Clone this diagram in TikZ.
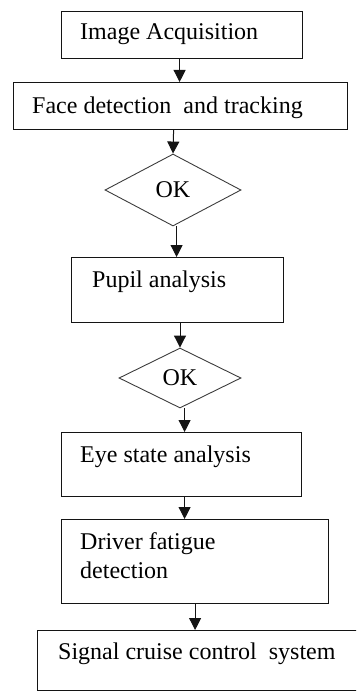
\documentclass[tikz,border=0pt]{standalone}
\usepackage{fontspec}
\setmainfont{Liberation Serif}
\usepackage{tikz}
\usetikzlibrary{arrows.meta,positioning,shapes.geometric}
\definecolor{ink}{RGB}{20,20,20}
\definecolor{rim}{RGB}{60,60,60}
\tikzset{
  blk/.style={draw=ink,line width=1.2pt,rectangle,inner sep=0pt,anchor=north west},
  chk/.style={draw=rim,line width=0.9pt,diamond,inner sep=0pt,aspect=1.9,
    font=\fontsize{24}{28}\selectfont},
  ar/.style={-{Triangle[length=12pt,width=12pt]},line width=1pt,draw=ink},
  txt/.style={font=\fontsize{24}{29}\selectfont,inner sep=0pt,anchor=base west,align=left},
}

\begin{document}
\begin{tikzpicture}[x=1pt,y=-1pt]
  \useasboundingbox (0,0) rectangle (356,693);

  % process boxes
  \node[blk,minimum width=241pt,minimum height=47pt] (acq) at (61,11) {};
  \node[blk,minimum width=334pt,minimum height=47pt] (face) at (13,82) {};
  \node[blk,minimum width=212pt,minimum height=65pt] (pupil) at (71,257) {};
  \node[blk,minimum width=240pt,minimum height=64pt] (eye) at (61,432) {};
  \node[blk,minimum width=267pt,minimum height=84pt] (drv) at (61,519) {};
  \begin{scope}
    \clip (0,0) rectangle (356,693);
    \node[blk,minimum width=330pt,minimum height=60pt] (sig) at (37,630) {};
  \end{scope}

  % checks
  \node[chk,minimum width=136pt,minimum height=72pt] (ok1) at (173,190) {OK};
  \node[chk,minimum width=122pt,minimum height=60pt] (ok2) at (180,378) {OK};

  % box texts (base of last line)
  \node[txt] (acqT) at ([shift={(19,29)}]acq.north west) {Image Acquisition};
  \node[txt] (faceT) at ([shift={(19,31)}]face.north west) {Face detection\ \ and tracking};
  \node[txt] (pupilT) at ([shift={(21,30)}]pupil.north west) {Pupil analysis};
  \node[txt] (eyeT) at ([shift={(19,30)}]eye.north west) {Eye state\ analysis};
  \node[txt] (drvT) at ([shift={(19,59)}]drv.north west) {Driver fatigue\\detection};
  \node[txt] (sigT) at ([shift={(21,29)}]sig.north west) {Signal cruise control\ \ system};

  % flow
  \draw[ar] ([xshift=-2.5pt]acq.south) -- ([xshift=-2.5pt]acq.south |- face.north);
  \draw[ar] ([xshift=-7pt]face.south) -- (ok1.north);
  \draw[ar] ([xshift=-1pt]pupil.north |- ok1.south) -- ([xshift=-1pt]pupil.north);
  \draw[ar] (pupil.south -| ok2.north) -- (ok2.north);
  \draw[ar] ([xshift=3pt]eye.north |- ok2.south) -- ([xshift=3pt]eye.north);
  \draw[ar] ([xshift=3pt]eye.south) -- ([xshift=3pt]eye.south |- drv.north);
  \draw[ar] (drv.south) -- (drv.south |- sig.north);
\end{tikzpicture}
\end{document}
